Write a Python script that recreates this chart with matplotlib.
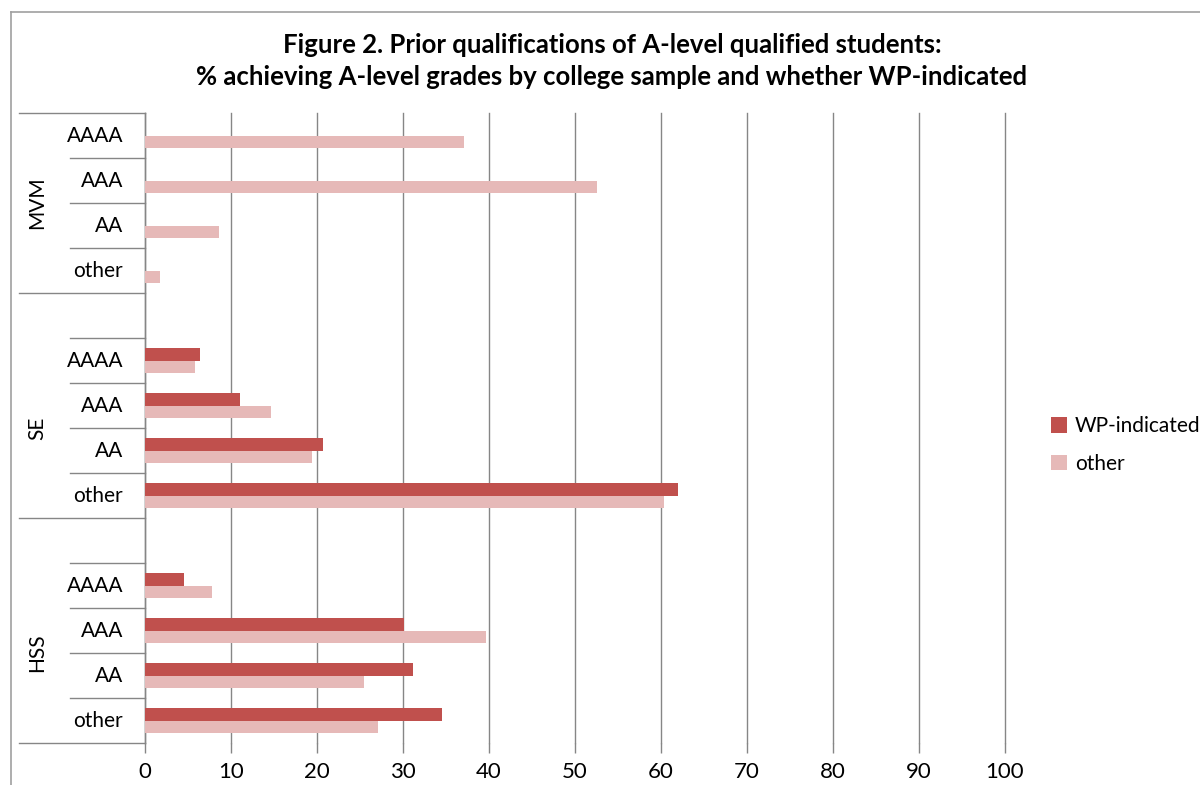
import numpy as np
import matplotlib
matplotlib.use("Agg")
import matplotlib.pyplot as plt
from matplotlib.lines import Line2D

plt.rcParams['font.family'] = ['Lato', 'DejaVu Sans']

# ---- data ----
groups = ["MVM", "SE", "HSS"]
grades = ["AAAA", "AAA", "AA", "other"]
wp_indicated = {
    "MVM": [np.nan, np.nan, np.nan, np.nan],
    "SE": [6.4, 11.1, 20.7, 62.0],
    "HSS": [4.5, 30.1, 31.2, 34.5],
}
other = {
    "MVM": [37.1, 52.6, 8.6, 1.8],
    "SE": [5.8, 14.6, 19.4, 60.3],
    "HSS": [7.8, 39.7, 25.5, 27.1],
}
series_names = ["WP-indicated", "other"]
xticks = [0, 10, 20, 30, 40, 50, 60, 70, 80, 90, 100]
title = ("Figure 2. Prior qualifications of A-level qualified students:\n"
         "% achieving A-level grades by college sample and whether WP-indicated")

c_wp = "#C0504D"
c_ot = "#E6B9B8"
gray = "#868686"

W, H = 1200, 785
fig = plt.figure(figsize=(W / 100, H / 100), dpi=100)

def fx(px):
    return px / W

def fy(py):
    return 1 - py / H

ax_l, ax_r, ax_t, ax_b = 145, 1005, 113, 743
ax = fig.add_axes([fx(ax_l), fy(ax_b), fx(ax_r - ax_l), fy(ax_t) - fy(ax_b)])

# build row layout (row index from top)
rows = []  # (group, grade or None)
for gi, g in enumerate(groups):
    if gi > 0:
        rows.append((g, None))
    for gr in grades:
        rows.append((g, gr))
n = len(rows)

bh = 0.282
wp_y, wp_v, ot_y, ot_v = [], [], [], []
for i, (g, gr) in enumerate(rows):
    if gr is None:
        continue
    k = grades.index(gr)
    wp_y.append(i - bh / 2); wp_v.append(wp_indicated[g][k])
    ot_y.append(i + bh / 2); ot_v.append(other[g][k])

ax.barh(wp_y, wp_v, height=bh, color=c_wp, label=series_names[0], zorder=3)
ax.barh(ot_y, ot_v, height=bh, color=c_ot, label=series_names[1], zorder=3)

ax.set_ylim(n - 0.5, -0.5)
ax.set_xlim(0, 100)
ax.set_xticks(xticks)
ax.set_xticklabels([str(t) for t in xticks], fontsize=16)
ax.tick_params(axis='x', length=7, color=gray, width=1, pad=7)
ax.set_yticks([])
ax.grid(axis='x', color=gray, linewidth=1, zorder=0)
for gl in ax.get_xgridlines():
    gl.set_clip_on(False)
for s in ['top', 'right', 'bottom']:
    ax.spines[s].set_visible(False)
ax.spines['left'].set_color(gray)
ax.spines['left'].set_linewidth(1)

# category axis: labels and separators
tr = ax.get_yaxis_transform()
short_x = (70 - ax_l) / (ax_r - ax_l)
long_x = (19 - ax_l) / (ax_r - ax_l)
lab_x = (123 - ax_l) / (ax_r - ax_l)
grp_x = (37 - ax_l) / (ax_r - ax_l)

boundaries_long = [-0.5]
for i in range(n):
    g = rows[i][0]
    nxt = rows[i + 1][0] if i + 1 < n else None
    b = i + 0.5
    if nxt != g:
        boundaries_long.append(b)
    else:
        ax.add_line(Line2D([short_x, 0], [b, b], transform=tr, color=gray,
                           linewidth=1, clip_on=False))
for b in boundaries_long:
    ax.add_line(Line2D([long_x, 0], [b, b], transform=tr, color=gray,
                       linewidth=1, clip_on=False))

for i, (g, gr) in enumerate(rows):
    if gr is not None:
        ax.text(lab_x, i, gr, transform=tr, ha='right', va='center', fontsize=15)

for g in groups:
    idx = [i for i, (gg, gr) in enumerate(rows) if gg == g and gr is not None]
    yc = (idx[0] + idx[-1]) / 2
    ax.text(grp_x, yc, g, transform=tr, ha='center', va='center', rotation=90,
            fontsize=15)

# title
fig.text(fx(612), fy(61), title, ha='center', va='center', fontsize=18.5,
         fontweight='bold', linespacing=1.4)

# chart border (left and top)
fig.add_artist(Line2D([fx(11), fx(11)], [fy(12), 0], color="#A0A0A0", linewidth=1.2))
fig.add_artist(Line2D([fx(11), 1], [fy(12), fy(12)], color="#A0A0A0", linewidth=1.2))

leg = fig.legend(loc='center left', bbox_to_anchor=(fx(1051), fy(445)),
                 frameon=False, fontsize=15, handlelength=0.75,
                 handleheight=0.75, handletextpad=0.4, labelspacing=0.85,
                 borderaxespad=0, borderpad=0)

fig.savefig("out.png", dpi=100)
